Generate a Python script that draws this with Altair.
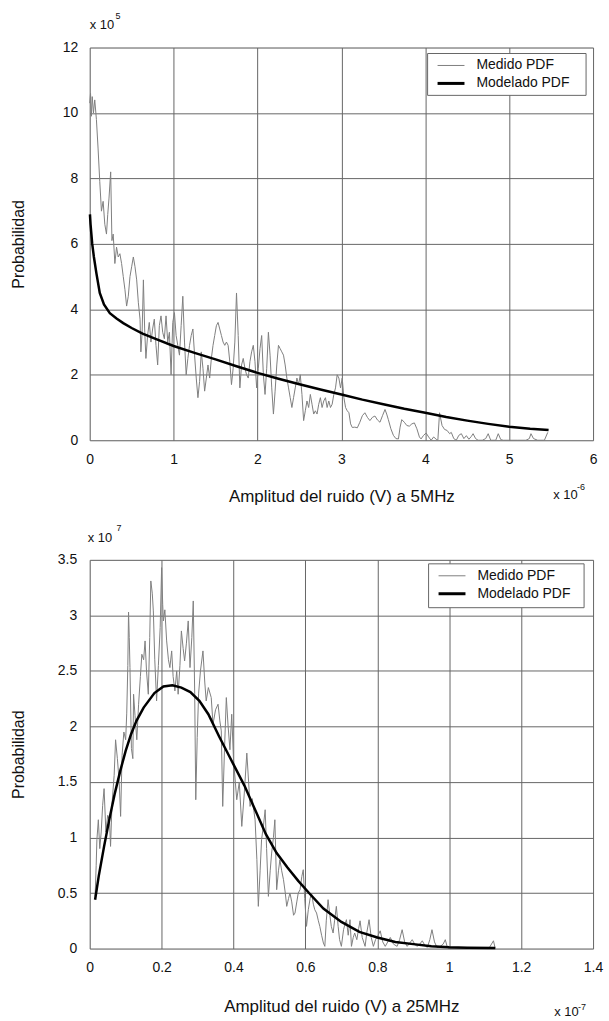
import altair as alt
import pandas as pd

FONT = "Liberation Sans"
TXT = "#111111"

# ---------------- Panel 1 (5 MHz) ----------------
top_meas_x = [0.000, 0.010, 0.020, 0.030, 0.045, 0.060, 0.080, 0.100, 0.120, 0.140, 0.160, 0.180, 0.200, 0.215, 0.230, 0.250,
              0.265, 0.280, 0.300, 0.320, 0.340, 0.360, 0.380, 0.400, 0.420, 0.440, 0.460, 0.480, 0.500, 0.520, 0.540, 0.560,
              0.580, 0.600, 0.610, 0.625, 0.640, 0.655, 0.670, 0.690, 0.710, 0.730, 0.750, 0.770, 0.790, 0.810, 0.830, 0.850,
              0.870, 0.890, 0.910, 0.930, 0.950, 0.970, 0.990, 1.010, 1.030, 1.050, 1.070, 1.090, 1.110, 1.130, 1.150, 1.170,
              1.190, 1.210, 1.230, 1.250, 1.270, 1.290, 1.310, 1.330, 1.350, 1.370, 1.390, 1.410, 1.430, 1.450, 1.470, 1.490,
              1.510, 1.530, 1.550, 1.570, 1.590, 1.610, 1.630, 1.650, 1.670, 1.690, 1.710, 1.730, 1.750, 1.770, 1.790, 1.810,
              1.830, 1.850, 1.870, 1.890, 1.910, 1.930, 1.950, 1.970, 1.990, 2.010, 2.030, 2.050, 2.070, 2.090, 2.110, 2.130,
              2.150, 2.170, 2.190, 2.210, 2.230, 2.250, 2.270, 2.290, 2.310, 2.330, 2.350, 2.370, 2.390, 2.410, 2.430, 2.450,
              2.470, 2.490, 2.510, 2.530, 2.550, 2.570, 2.590, 2.610, 2.630, 2.650, 2.670, 2.690, 2.710, 2.730, 2.750, 2.770,
              2.790, 2.810, 2.830, 2.850, 2.870, 2.890, 2.910, 2.930, 2.950, 2.970, 2.990, 3.010, 3.030, 3.050, 3.070, 3.090,
              3.110, 3.130, 3.160, 3.190, 3.220, 3.250, 3.280, 3.310, 3.340, 3.370, 3.400, 3.430, 3.460, 3.490, 3.520, 3.540,
              3.560, 3.590, 3.620, 3.650, 3.680, 3.700, 3.720, 3.750, 3.780, 3.810, 3.840, 3.870, 3.900, 3.930, 3.950, 3.980,
              4.010, 4.040, 4.070, 4.100, 4.130, 4.150, 4.170, 4.200, 4.230, 4.260, 4.290, 4.310, 4.340, 4.370, 4.400, 4.430,
              4.460, 4.490, 4.520, 4.550, 4.570, 4.600, 4.630, 4.680, 4.720, 4.750, 4.780, 4.840, 4.870, 4.900, 4.930, 5.000,
              5.100, 5.200, 5.240, 5.260, 5.290, 5.340, 5.420, 5.460]
top_meas_y = [10.3, 10.6, 9.9, 10.5, 10.0, 10.4, 9.8, 8.9, 7.9, 7.0, 7.3, 6.6, 6.3, 6.9, 7.4, 8.2,
              6.1, 6.3, 5.4, 5.9, 5.6, 5.7, 5.4, 5.0, 4.6, 4.1, 4.4, 5.0, 5.3, 5.6, 5.3, 4.9,
              4.2, 3.7, 2.7, 3.3, 4.9, 3.4, 2.5, 3.2, 3.6, 3.0, 3.4, 3.7, 2.9, 2.3, 3.5, 3.8,
              3.3, 3.1, 3.8, 3.0, 3.3, 2.0, 3.6, 3.9, 3.2, 2.9, 2.6, 3.5, 4.4, 3.0, 2.0, 2.5,
              2.9, 3.2, 3.4, 2.6, 1.9, 1.3, 1.8, 2.7, 2.2, 1.5, 1.9, 2.3, 1.9, 2.5, 2.9, 3.2,
              3.5, 3.6, 3.4, 3.2, 3.0, 2.9, 3.0, 2.9, 2.4, 1.7, 2.2, 3.0, 4.5, 3.2, 1.6, 2.3,
              2.5, 2.2, 2.0, 1.9, 2.4, 2.7, 2.9, 2.4, 1.6, 2.2, 2.8, 3.2, 2.0, 1.4, 2.2, 3.3,
              2.6, 1.6, 0.8, 1.5, 2.3, 2.9, 2.8, 2.7, 2.6, 2.3, 1.9, 1.6, 1.3, 1.0, 1.3, 1.6,
              1.9, 1.7, 2.0, 1.4, 0.6, 0.9, 1.2, 1.0, 1.4, 1.1, 0.8, 0.9, 0.8, 1.1, 1.3, 1.0,
              1.2, 1.3, 1.0, 1.2, 1.0, 1.1, 1.4, 1.6, 2.0, 1.9, 1.6, 1.9, 1.3, 1.0, 0.9, 0.84,
              0.5, 0.39, 0.40, 0.38, 0.55, 0.75, 0.84, 0.70, 0.60, 0.70, 0.74, 0.62, 0.55, 0.75, 0.94, 0.80,
              0.63, 0.35, 0.15, 0.05, 0.04, 0.40, 0.63, 0.55, 0.45, 0.43, 0.50, 0.53, 0.35, 0.10, 0.04, 0.15,
              0.22, 0.10, 0.00, 0.10, 0.03, 0.00, 0.84, 0.45, 0.33, 0.30, 0.20, 0.24, 0.05, 0.00, 0.15, 0.20,
              0.05, 0.14, 0.03, 0.12, 0.20, 0.05, 0.00, 0.00, 0.05, 0.20, 0.00, 0.00, 0.20, 0.02, 0.00, 0.00,
              0.00, 0.00, 0.05, 0.20, 0.05, 0.00, 0.00, 0.24]

top_mod_x = [0.003, 0.01, 0.02, 0.03, 0.05, 0.08, 0.12, 0.17, 0.24, 0.32, 0.40, 0.50, 0.63, 0.80, 1.00, 1.25, 1.50,
             1.75, 2.00, 2.25, 2.50, 2.75, 3.00, 3.25, 3.50, 3.75, 4.00, 4.25, 4.50, 4.75, 5.00, 5.25, 5.47]
top_mod_y = [6.9, 6.6, 6.3, 6.0, 5.6, 5.1, 4.5, 4.15, 3.88, 3.72, 3.58, 3.43, 3.26, 3.08, 2.88, 2.67, 2.47,
             2.26, 2.06, 1.88, 1.71, 1.55, 1.40, 1.24, 1.10, 0.96, 0.84, 0.71, 0.60, 0.50, 0.41, 0.35, 0.31]

top_x_ticks = [0, 1, 2, 3, 4, 5, 6]
top_y_ticks = [0, 2, 4, 6, 8, 10, 12]
top_x_title = "Amplitud del ruido (V) a  5MHz"

# ---------------- Panel 2 (25 MHz) ----------------
bot_meas_x = [0.015, 0.018, 0.020, 0.024, 0.028, 0.032, 0.036, 0.040, 0.045, 0.050, 0.055, 0.058, 0.062, 0.068, 0.072, 0.077,
              0.082, 0.086, 0.090, 0.095, 0.100, 0.103, 0.106, 0.108, 0.110, 0.112, 0.116, 0.120, 0.122, 0.126, 0.131, 0.136,
              0.141, 0.145, 0.150, 0.154, 0.158, 0.163, 0.167, 0.170, 0.174, 0.177, 0.181, 0.186, 0.191, 0.196, 0.200, 0.203,
              0.205, 0.209, 0.214, 0.219, 0.223, 0.228, 0.232, 0.237, 0.242, 0.246, 0.251, 0.255, 0.260, 0.264, 0.269, 0.274,
              0.279, 0.284, 0.288, 0.292, 0.295, 0.299, 0.303, 0.308, 0.315, 0.320, 0.324, 0.330, 0.338, 0.343, 0.350, 0.357,
              0.362, 0.366, 0.370, 0.375, 0.380, 0.385, 0.390, 0.395, 0.400, 0.405, 0.409, 0.416, 0.423, 0.430, 0.437, 0.442,
              0.446, 0.452, 0.460, 0.465, 0.469, 0.474, 0.478, 0.483, 0.488, 0.492, 0.497, 0.502, 0.506, 0.511, 0.515, 0.520,
              0.525, 0.529, 0.534, 0.539, 0.544, 0.548, 0.553, 0.557, 0.562, 0.567, 0.571, 0.576, 0.580, 0.585, 0.590, 0.594,
              0.598, 0.603, 0.608, 0.613, 0.617, 0.622, 0.626, 0.631, 0.636, 0.640, 0.645, 0.650, 0.654, 0.658, 0.663, 0.668,
              0.672, 0.677, 0.681, 0.686, 0.691, 0.695, 0.700, 0.706, 0.710, 0.714, 0.719, 0.724, 0.728, 0.733, 0.737, 0.743,
              0.748, 0.752, 0.758, 0.766, 0.771, 0.777, 0.783, 0.789, 0.795, 0.802, 0.808, 0.815, 0.822, 0.829, 0.836, 0.845,
              0.855, 0.862, 0.869, 0.876, 0.883, 0.890, 0.897, 0.904, 0.910, 0.918, 0.925, 0.932, 0.939, 0.946, 0.952, 0.959,
              0.966, 0.975, 0.983, 0.989, 0.994, 0.998, 1.030, 1.060, 1.090, 1.110, 1.123, 1.128]
bot_meas_y = [0.47, 0.75, 0.98, 1.16, 0.90, 1.05, 1.29, 1.44, 1.05, 1.20, 1.16, 0.92, 1.30, 1.56, 1.88, 1.71,
              1.50, 1.19, 1.74, 1.95, 1.88, 2.12, 2.55, 3.03, 2.80, 2.53, 1.80, 1.71, 2.29, 2.10, 1.88, 2.20,
              2.45, 2.65, 2.60, 2.77, 2.50, 2.29, 2.80, 3.31, 3.20, 3.04, 2.60, 2.23, 2.55, 2.89, 3.43, 3.10,
              2.95, 3.05, 2.77, 2.60, 2.53, 2.68, 2.45, 2.32, 2.50, 2.29, 2.55, 2.86, 2.70, 2.59, 2.75, 2.95,
              2.53, 2.80, 3.13, 2.30, 1.34, 1.90, 2.30, 2.50, 2.68, 2.40, 2.23, 2.35, 2.26, 2.02, 2.15, 2.20,
              2.05, 1.96, 1.28, 1.80, 2.26, 2.00, 1.79, 2.11, 1.70, 1.50, 1.34, 1.50, 1.10, 1.40, 1.76, 1.50,
              1.28, 1.35, 1.16, 0.80, 0.38, 0.70, 0.98, 1.10, 1.25, 0.90, 0.47, 0.70, 0.86, 1.00, 1.16, 0.53,
              0.70, 0.80, 0.70, 0.62, 0.50, 0.38, 0.45, 0.50, 0.42, 0.30, 0.32, 0.42, 0.50, 0.53, 0.65, 0.71,
              0.45, 0.20, 0.35, 0.45, 0.50, 0.40, 0.35, 0.32, 0.25, 0.20, 0.12, 0.05, 0.02, 0.25, 0.44, 0.30,
              0.20, 0.14, 0.25, 0.38, 0.20, 0.08, 0.02, 0.17, 0.22, 0.26, 0.12, 0.26, 0.02, 0.10, 0.14, 0.08,
              0.18, 0.25, 0.10, 0.02, 0.15, 0.26, 0.10, 0.02, 0.08, 0.12, 0.16, 0.06, 0.02, 0.06, 0.10, 0.04,
              0.02, 0.08, 0.17, 0.06, 0.02, 0.05, 0.08, 0.04, 0.02, 0.04, 0.07, 0.03, 0.01, 0.08, 0.17, 0.06,
              0.01, 0.02, 0.04, 0.08, 0.02, 0.00, 0.00, 0.00, 0.00, 0.00, 0.07, 0.00]

bot_mod_x = [0.015, 0.025, 0.04, 0.055, 0.07, 0.085, 0.10, 0.115, 0.13, 0.15, 0.18, 0.205, 0.23, 0.255, 0.28, 0.305,
             0.33, 0.36, 0.39, 0.43, 0.46, 0.49, 0.52, 0.55, 0.58, 0.61, 0.65, 0.70, 0.75, 0.80, 0.85, 0.90, 0.95,
             1.00, 1.05, 1.128]
bot_mod_y = [0.44, 0.65, 0.92, 1.17, 1.40, 1.60, 1.78, 1.93, 2.05, 2.17, 2.30, 2.36, 2.37, 2.35, 2.31, 2.23,
             2.11, 1.91, 1.72, 1.47, 1.25, 1.03, 0.86, 0.73, 0.61, 0.50, 0.36, 0.24, 0.15, 0.10, 0.06, 0.04, 0.02,
             0.012, 0.008, 0.005]

bot_x_ticks = [0, 0.2, 0.4, 0.6, 0.8, 1.0, 1.2, 1.4]
bot_y_ticks = [0, 0.5, 1, 1.5, 2, 2.5, 3, 3.5]
bot_x_title = "Amplitud del ruido (V) a 25MHz"

legend_labels = ["Medido PDF", "Modelado PDF"]
y_title = "Probabilidad"


def txt(s, x, y, size, align="left", baseline="alphabetic"):
    return alt.Chart(pd.DataFrame({"t": [s]})).mark_text(
        font=FONT, fontSize=size, color=TXT, align=align, baseline=baseline
    ).encode(x=alt.value(x), y=alt.value(y), text="t:N")


def panel(mx, my, dx, dy, xt, yt, xdom, ydom, w, h, xtitle, ytitle_x, ylabpad,
          xtitle_y, exp_top, exp_bot, leg):
    meas = pd.DataFrame({"x": mx, "y": my})
    mod = pd.DataFrame({"x": dx, "y": dy})
    X = alt.X("x:Q", scale=alt.Scale(domain=xdom, nice=False, zero=False),
              axis=alt.Axis(values=xt, format="~g", title=xtitle, grid=True, ticks=False, domain=False,
                            labelFont=FONT, labelFontSize=14, labelColor=TXT, labelPadding=12,
                            labelFlush=False, labelOverlap=False,
                            titleFont=FONT, titleFontSize=17, titleFontWeight="normal", titleColor=TXT,
                            titleY=xtitle_y, titleBaseline="middle",
                            gridColor="#666666", gridWidth=1, gridOpacity=1))
    Y = alt.Y("y:Q", scale=alt.Scale(domain=ydom, nice=False, zero=False),
              axis=alt.Axis(values=yt, format="~g", title=y_title, grid=True, ticks=False, domain=False,
                            labelFont=FONT, labelFontSize=14, labelColor=TXT, labelPadding=ylabpad,
                            labelFlush=False, labelOverlap=False,
                            titleFont=FONT, titleFontSize=16, titleFontWeight="normal", titleColor=TXT,
                            titleX=ytitle_x, titleY=h / 2, titleAngle=270, titleAlign="center",
                            titleBaseline="middle",
                            gridColor="#666666", gridWidth=1, gridOpacity=1))
    layers = [
        alt.Chart(meas).mark_line(color="#808080", strokeWidth=1).encode(x=X, y=Y),
        alt.Chart(mod).mark_line(color="#000000", strokeWidth=2.5).encode(x="x:Q", y="y:Q"),
    ]
    bx1, by1, bx2, by2 = leg
    layers.append(alt.Chart(pd.DataFrame({"a": [0]})).mark_rect(
        fill="white", stroke="#666666", strokeWidth=1).encode(
        x=alt.value(bx1), x2=alt.value(bx2), y=alt.value(by1), y2=alt.value(by2)))
    row_y = [by1 + 12, by1 + 30]
    styles = [("#808080", 1), ("#000000", 3)]
    for lab, ry, (c, sw) in zip(legend_labels, row_y, styles):
        layers.append(alt.Chart(pd.DataFrame({"a": [0]})).mark_rule(color=c, strokeWidth=sw).encode(
            x=alt.value(bx1 + 10), x2=alt.value(bx1 + 37), y=alt.value(ry)))
        layers.append(txt(lab, bx1 + 49, ry, 14, baseline="middle"))
    tx, ty, ex, ey, texp = exp_top
    btx, bty, bex, bey, bexp = exp_bot
    layers.append(txt("x 10", tx, ty, 13))
    layers.append(txt(texp, ex, ey, 9))
    layers.append(txt("x 10", btx, bty, 13))
    layers.append(txt(bexp, bex, bey, 9))
    return alt.layer(*layers).properties(width=w, height=h)


top = panel(top_meas_x, top_meas_y, top_mod_x, top_mod_y, top_x_ticks, top_y_ticks, [0, 6], [0, 12],
            505, 394, top_x_title, -71, 12, 56,
            (0, -19, 26, -29, "5"), (465, 453, 489, 444, "-6"), (339, 6, 498, 48))
bottom = panel(bot_meas_x, bot_meas_y, bot_mod_x, bot_mod_y, bot_x_ticks, bot_y_ticks, [0, 1.4], [0, 3.5],
               505, 390, bot_x_title, -71, 13, 58,
               (-2, -18, 27, -29, "7"), (466, 458, 490, 452, "-7"), (340, 4, 496, 48))

chart = alt.concat(top, bottom, columns=1, align="none", spacing=18).properties(
    padding={"left": 10, "top": 9, "right": 5, "bottom": 5}
).configure_view(stroke="#666666", strokeWidth=1).configure(background="white")

chart.save("out.html", embed_options={"renderer": "svg", "actions": False})
